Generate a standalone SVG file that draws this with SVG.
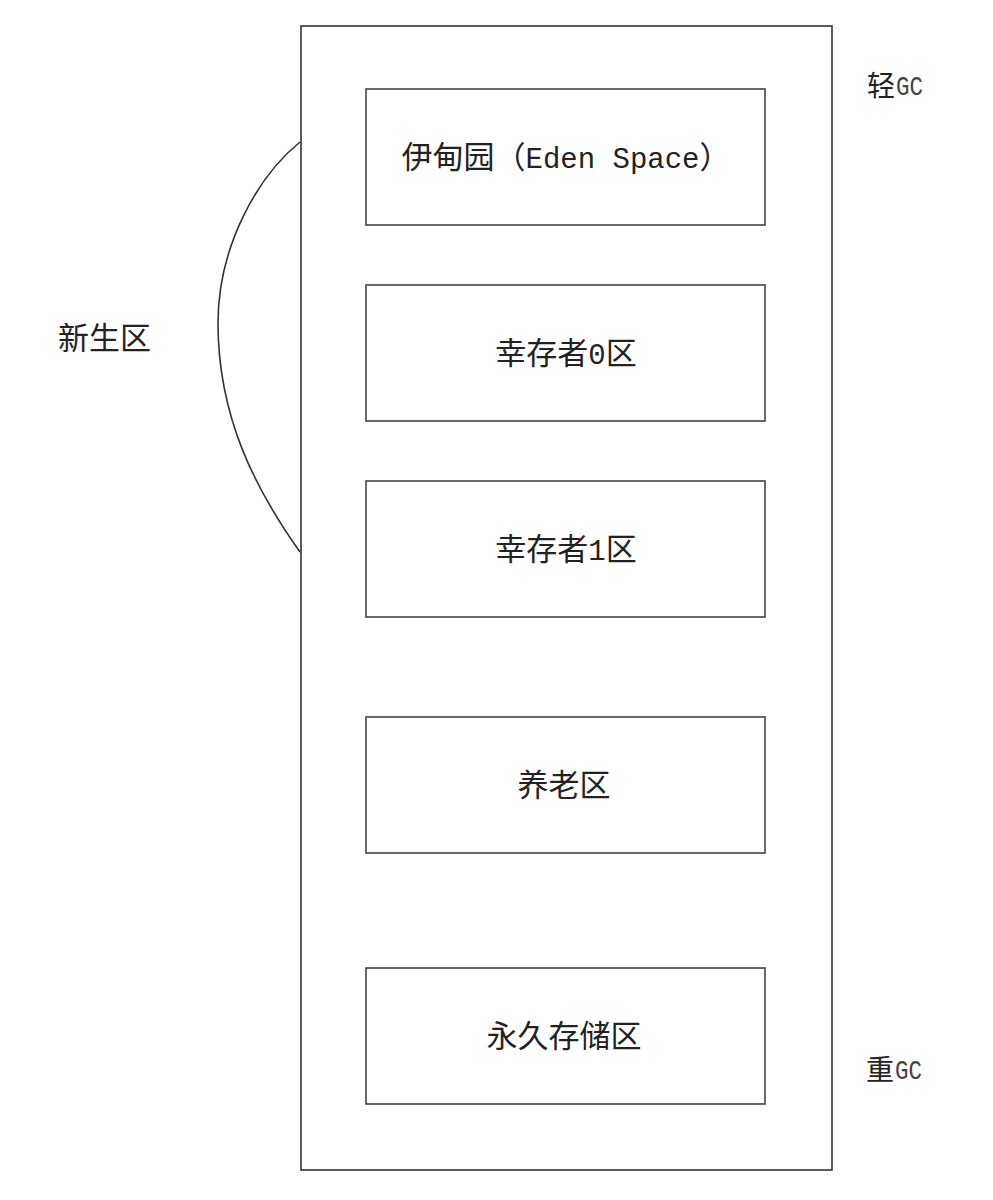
<svg xmlns="http://www.w3.org/2000/svg" width="993" height="1200" viewBox="0 0 993 1200">
<style>
.frame{fill:#fff;stroke:#333;stroke-width:1.6}
.box{fill:#fff;stroke:#444;stroke-width:1.6}
.t{font-family:"Liberation Mono","Noto Sans CJK SC",monospace;font-size:31px;fill:#222;text-anchor:middle}
.lat{font-family:"Liberation Mono",monospace;font-size:29px}
.side{font-family:"Liberation Mono","Noto Sans CJK SC",monospace;font-size:28px;fill:#222}
.gc{font-family:"Liberation Mono",monospace;font-size:27px;fill:#444}
.conn{fill:none;stroke:#333;stroke-width:1.6}
</style>
<rect width="993" height="1200" fill="#fff"/>
<g id="heap">
<rect class="frame" x="301" y="26" width="531" height="1144"/>
</g>
<g id="eden">
<rect class="box" x="366" y="89" width="399" height="136"/>
<text class="t" x="566" y="168">伊甸园（<tspan class="lat">Eden Space</tspan>）</text>
</g>
<g id="survivor0">
<rect class="box" x="366" y="285" width="399" height="136"/>
<text class="t" x="566" y="364">幸存者<tspan class="lat">0</tspan>区</text>
</g>
<g id="survivor1">
<rect class="box" x="366" y="481" width="399" height="136"/>
<text class="t" x="566" y="560">幸存者<tspan class="lat">1</tspan>区</text>
</g>
<g id="old">
<rect class="box" x="366" y="717" width="399" height="136"/>
<text class="t" x="564" y="796">养老区</text>
</g>
<g id="perm">
<rect class="box" x="366" y="968" width="399" height="136"/>
<text class="t" x="564" y="1047">永久存储区</text>
</g>
<g id="young-label">
<text class="side" x="58" y="349" style="font-size:31px">新生区</text>
</g>
<g id="minor-gc">
<text class="side" x="867" y="96">轻</text>
<text class="gc" x="896" y="95" textLength="27" lengthAdjust="spacingAndGlyphs">GC</text>
</g>
<g id="major-gc">
<text class="side" x="866" y="1080">重</text>
<text class="gc" x="895" y="1079" textLength="27" lengthAdjust="spacingAndGlyphs">GC</text>
</g>
<g id="connectors">
<path class="conn" d="M300,142 C258,176 218,246 218,323 C218,418 256,490 300,552"/>
</g>
</svg>
